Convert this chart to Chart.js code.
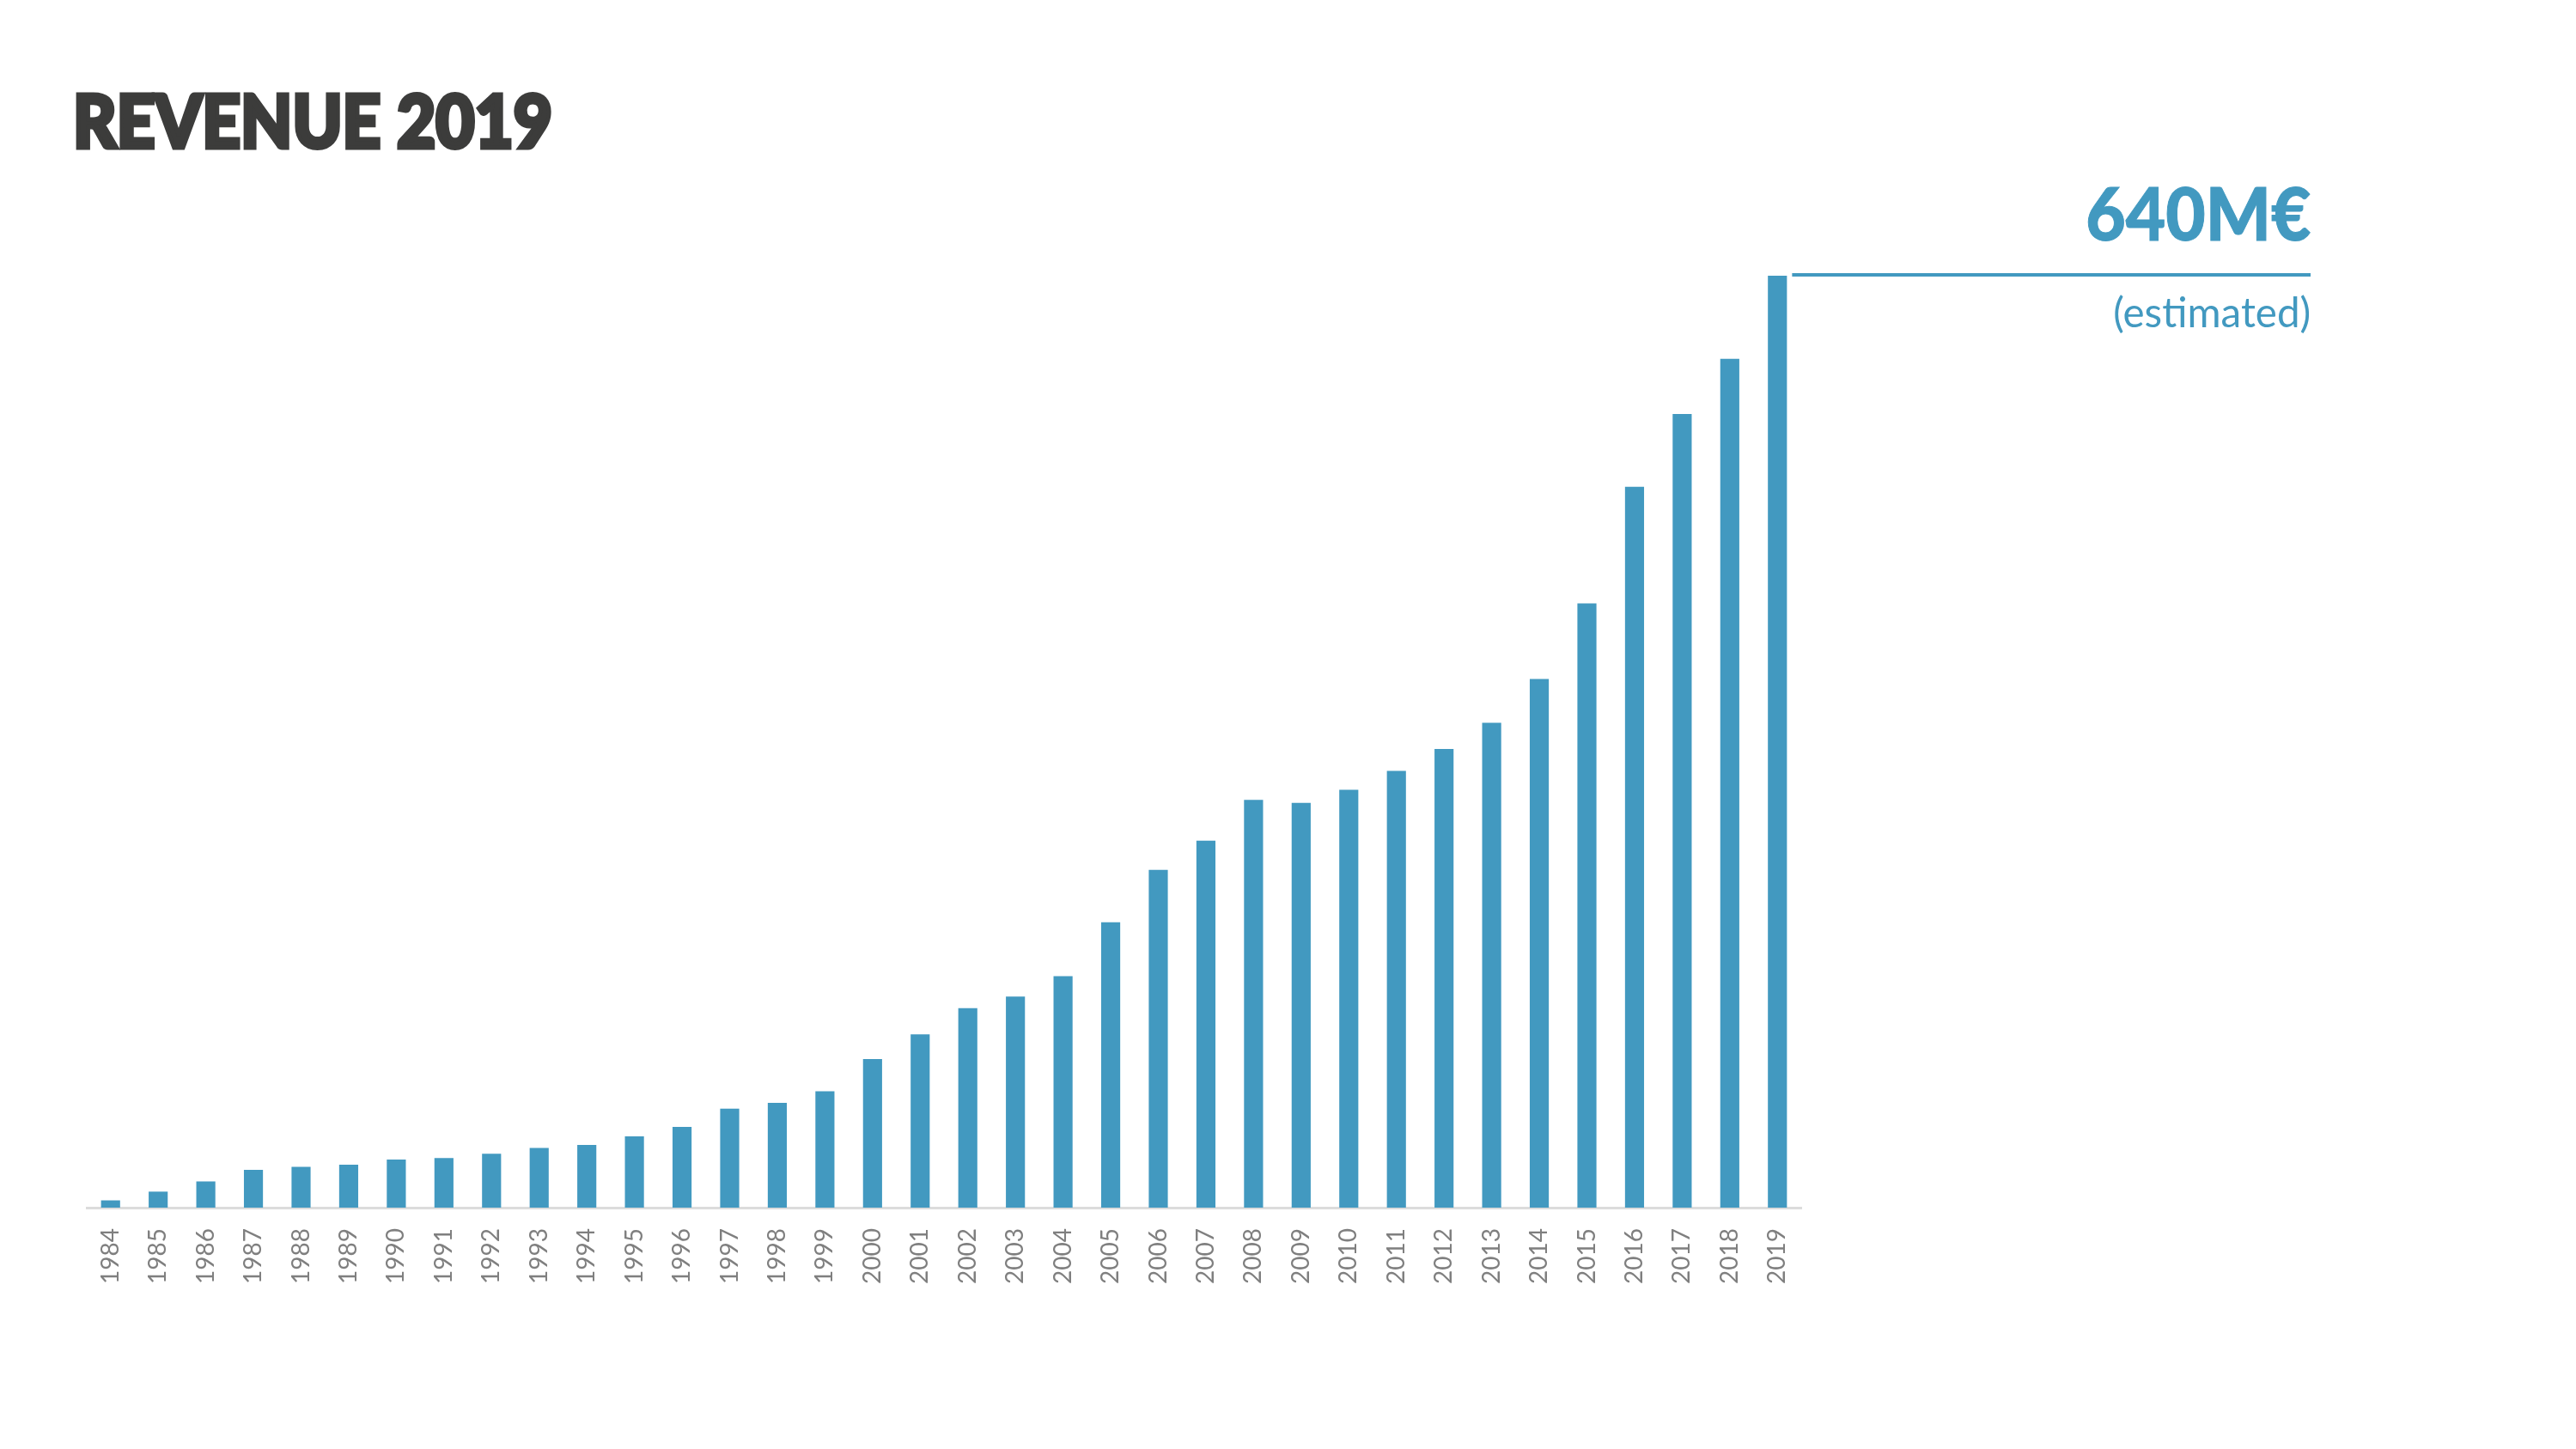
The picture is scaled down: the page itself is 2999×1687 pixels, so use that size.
<!DOCTYPE html>
<html>
<head>
<meta charset="utf-8">
<title>Revenue 2019</title>
<script src="https://cdn.jsdelivr.net/npm/chart.js@4.4.1/dist/chart.umd.min.js"></script>
<style>
  html, body { margin: 0; padding: 0; background: #fff; }
  #wrap { position: relative; width: 2999px; height: 1687px; overflow: hidden; }
  #revChart { position: absolute; left: 0; top: 0; }
  .txt { position: absolute; white-space: nowrap; line-height: 1; font-family: Lato, "Open Sans", sans-serif; }
  #title { left: 85px; top: 97px; font-size: 85px; font-weight: 900; color: #3c3c3b; -webkit-text-stroke: 5px #3c3c3b; transform-origin: left top; }
  #bigValue { right: 309px; top: 204px; font-size: 86px; font-weight: 900; color: #4299c0; -webkit-text-stroke: 1px #4299c0; transform-origin: right top; }
  #estLabel { right: 309px; top: 339px; font-size: 48px; font-weight: 400; color: #4299c0; transform-origin: right top; }
</style>
</head>
<body>
<div id="wrap">
  <canvas id="revChart" width="2999" height="1687"></canvas>
  <div class="txt" id="title">REVENUE 2019</div>
  <div class="txt" id="bigValue">640M€</div>
  <div class="txt" id="estLabel">(estimated)</div>
</div>
<script>
// years on the x axis
const years = [
  "1984", "1985", "1986", "1987", "1988", "1989", "1990", "1991", "1992", "1993",
  "1994", "1995", "1996", "1997", "1998", "1999", "2000", "2001", "2002", "2003",
  "2004", "2005", "2006", "2007", "2008", "2009", "2010", "2011", "2012", "2013",
  "2014", "2015", "2016", "2017", "2018", "2019"
];
// revenue in M€ (2019 is the estimate)
const revenue = [
  5, 11, 18, 26, 28, 29.5, 33, 34, 37, 41,
  43, 49, 55.5, 68, 72, 80, 102, 119, 137, 145,
  159, 196, 232, 252, 280, 278, 287, 300, 315, 333,
  363, 415, 495, 545, 583, 640
];
const yMax = 640;

const barBlue = "#4299c0";
const lineEndX = 2690;

// squeeze a text box to a target width
function fitWidth(id, w) {
  const el = document.getElementById(id);
  const cur = el.getBoundingClientRect().width;
  if (cur > 0) el.style.transform = `scaleX(${w / cur})`;
}
fitWidth("title", 558);
fitWidth("bigValue", 262);
fitWidth("estLabel", 230);

// horizontal marker from the last bar to the right-hand label
const lastBarLine = {
  id: "lastBarLine",
  afterDatasetsDraw(chart) {
    const meta = chart.getDatasetMeta(0);
    const bar = meta.data[meta.data.length - 1];
    if (!bar) return;
    const y = chart.scales.y.getPixelForValue(revenue[revenue.length - 1]) - 1;
    const ctx = chart.ctx;
    ctx.save();
    ctx.strokeStyle = barBlue;
    ctx.lineWidth = 4;
    ctx.beginPath();
    ctx.moveTo(bar.x + bar.width / 2 + 6, y);
    ctx.lineTo(lineEndX, y);
    ctx.stroke();
    ctx.restore();
  }
};

new Chart(document.getElementById("revChart").getContext("2d"), {
  type: "bar",
  data: {
    labels: years,
    datasets: [{
      data: revenue,
      backgroundColor: barBlue,
      borderWidth: 0,
      categoryPercentage: 1,
      barPercentage: 0.4
    }]
  },
  options: {
    responsive: false,
    animation: false,
    layout: { padding: { left: 101, right: 902, top: 321, bottom: 0 } },
    plugins: {
      legend: { display: false },
      tooltip: { enabled: false }
    },
    scales: {
      x: {
        grid: { display: false, drawTicks: false },
        border: { display: true, color: "#dcdcdc", width: 3 },
        ticks: {
          autoSkip: false,
          maxRotation: 90,
          minRotation: 90,
          padding: 24,
          color: "#7f7f7f",
          font: { family: "Lato", size: 28 }
        },
        afterFit: scale => { scale.height = 281; }
      },
      y: {
        display: false,
        min: 0,
        max: yMax
      }
    }
  },
  plugins: [lastBarLine]
});
</script>
</body>
</html>
